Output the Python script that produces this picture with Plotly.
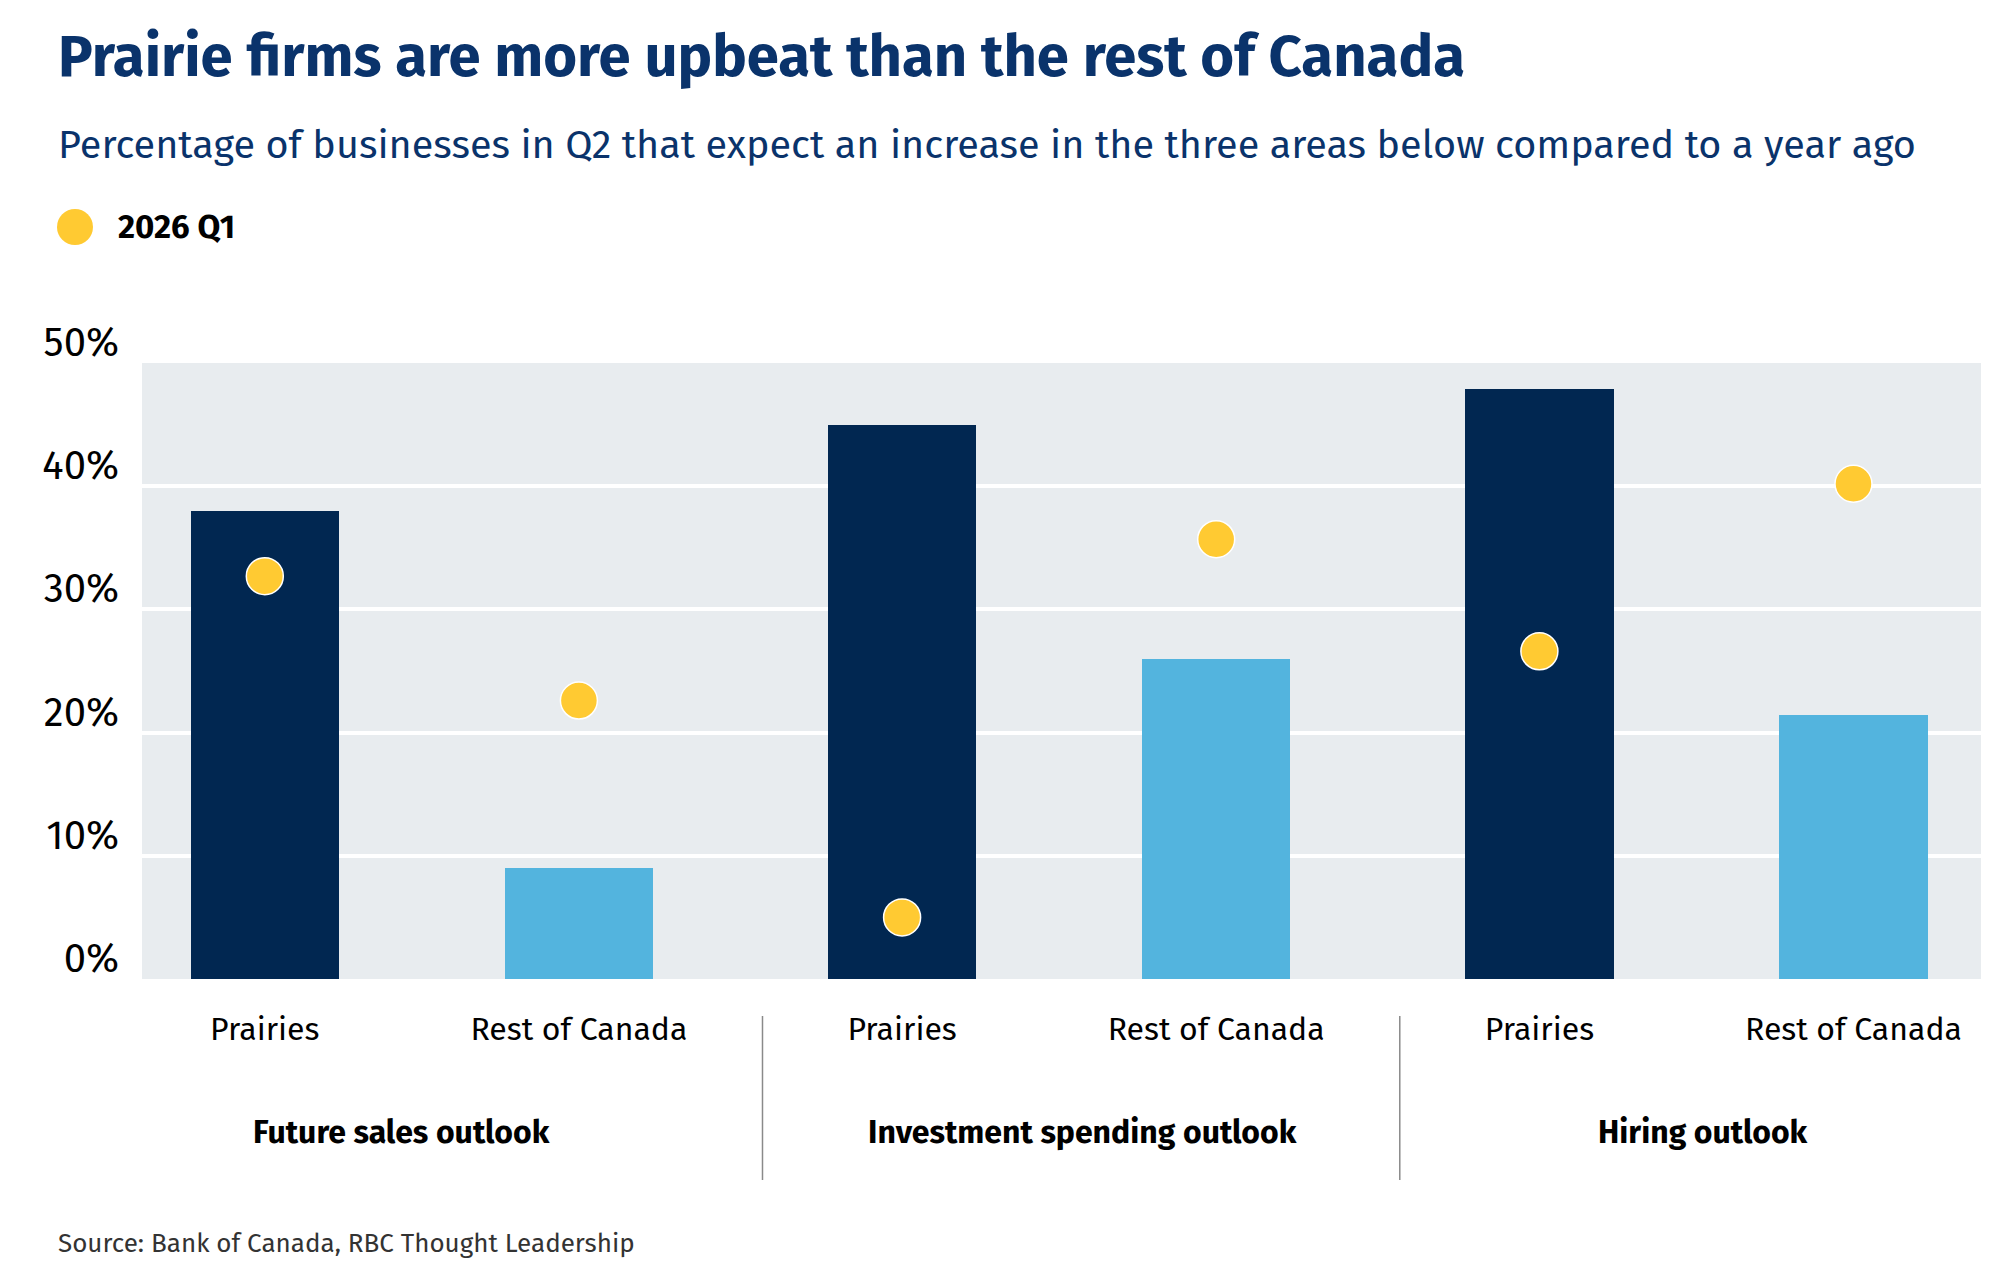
import plotly.graph_objects as go

# Data
regions = ["Prairies", "Rest of Canada", "Prairies", "Rest of Canada", "Prairies", "Rest of Canada"]
outlooks = ["Future sales outlook", "Investment spending outlook", "Hiring outlook"]
q2_share = [38.0, 9.0, 45.0, 26.0, 47.9, 21.4]   # bars (Q2)
q1_share = [32.7, 22.6, 5.0, 35.7, 26.6, 40.2]   # dots (2026 Q1)
y_ticks = [0, 10, 20, 30, 40, 50]
y_ticktext = [f"{v}%" for v in y_ticks]

NAVY = "#012751"
LIGHT_BLUE = "#53b4de"
YELLOW = "#ffca32"
TITLE_BLUE = "#0a336b"
FONT = "Fira Sans, Open Sans, sans-serif"

# the page body adds an 8px margin, so the figure is drawn 8px smaller
PAGE_PAD = 8
W, H = 2000 - PAGE_PAD, 1262 - PAGE_PAD
L, R, T, B = 142 - PAGE_PAD, 19, 363 - PAGE_PAD, 283
PW, PH = W - L - R, H - T - B


def px(x):
    # screen x -> paper fraction
    return (x - PAGE_PAD - L) / PW


def py(y):
    # screen y -> paper fraction
    return (H - B - (y - PAGE_PAD)) / PH


# bars sit in pairs, with a slightly wider step between the groups
GROUP_GAP = 0.029
xpos = [i + (i // 2) * GROUP_GAP for i in range(len(regions))]
bar_colors = [NAVY if r == "Prairies" else LIGHT_BLUE for r in regions]

# group labels / dividers sit a little off the exact pair midpoints in the original
label_nudge = [-0.064, 0.075, 0.02]
divider_nudge = 0.07

fig = go.Figure()

fig.add_trace(go.Bar(
    x=xpos, y=q2_share, width=0.473,
    marker=dict(color=bar_colors, line=dict(width=0)),
    showlegend=False, hoverinfo="y"
))

fig.add_trace(go.Scatter(
    x=xpos, y=q1_share, mode="markers", name="2026 Q1",
    marker=dict(size=37, color=YELLOW, line=dict(color="white", width=1.5)),
    showlegend=False
))

# group labels under each pair of bars, with dividers between groups
for i, name in enumerate(outlooks):
    mid = (xpos[2 * i] + xpos[2 * i + 1]) / 2
    fig.add_annotation(
        x=mid + label_nudge[i], xref="x", y=py(1132), yref="paper",
        text="<b>" + name + "</b>", showarrow=False,
        font=dict(size=32, color="black", family=FONT),
        xanchor="center", yanchor="middle"
    )
    if i > 0:
        xd = (xpos[2 * i - 1] + xpos[2 * i]) / 2 + divider_nudge
        fig.add_shape(
            type="line", xref="x", yref="paper",
            x0=xd, x1=xd, y0=py(1016), y1=py(1180),
            line=dict(color="#8a8a8a", width=1.5)
        )

# title, subtitle, legend, source
fig.add_annotation(
    x=px(56), y=py(56), xref="paper", yref="paper",
    text="<b>Prairie firms are more upbeat than the rest of Canada</b>",
    showarrow=False, xanchor="left", yanchor="middle",
    font=dict(size=58, color=TITLE_BLUE, family=FONT)
)
fig.add_annotation(
    x=px(56), y=py(145), xref="paper", yref="paper",
    text="Percentage of businesses in Q2 that expect an increase in the three areas below compared to a year ago",
    showarrow=False, xanchor="left", yanchor="middle",
    font=dict(size=39.6, color=TITLE_BLUE, family=FONT)
)
fig.add_shape(
    type="circle", xref="paper", yref="paper",
    xsizemode="pixel", ysizemode="pixel",
    xanchor=px(75), yanchor=py(227),
    x0=-18, x1=18, y0=-18, y1=18,
    fillcolor=YELLOW, line=dict(width=0)
)
fig.add_annotation(
    x=px(116), y=py(227), xref="paper", yref="paper",
    text="<b>2026 Q1</b>", showarrow=False, xanchor="left", yanchor="middle",
    font=dict(size=33, color="black", family=FONT)
)
fig.add_annotation(
    x=px(56), y=py(1243), xref="paper", yref="paper",
    text="Source: Bank of Canada, RBC Thought Leadership",
    showarrow=False, xanchor="left", yanchor="middle",
    font=dict(size=26, color="#333333", family=FONT)
)

fig.update_xaxes(
    range=[-0.391, xpos[-1] + 0.406], tickvals=xpos, ticktext=regions,
    showgrid=False, zeroline=False, showline=False, ticks="",
    tickfont=dict(size=32, color="black", family=FONT),
    ticklabelstandoff=28, fixedrange=True
)
fig.update_yaxes(
    range=[0, 50], tickvals=y_ticks, ticktext=y_ticktext,
    showgrid=True, gridcolor="white", gridwidth=4,
    zeroline=False, showline=False, ticks="",
    ticklabelposition="outside top", ticklabelstandoff=22, ticklabelshift=7,
    tickfont=dict(size=40, color="black", family=FONT), fixedrange=True
)

fig.update_layout(
    width=W, height=H,
    margin=dict(l=L, r=R, t=T, b=B),
    plot_bgcolor="#e8ecef", paper_bgcolor="white",
    font=dict(family=FONT),
    bargap=0, showlegend=False
)

fig.write_html("out.html")
